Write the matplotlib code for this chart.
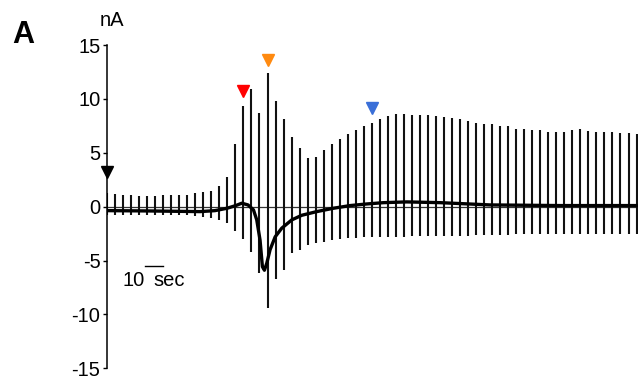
import numpy as np
import matplotlib.pyplot as plt

plt.rcParams['font.family'] = ['Liberation Sans', 'DejaVu Sans']
plt.rcParams['axes.unicode_minus'] = False

# stimulus-evoked current spikes, one every 4.4 s
spike_interval = 4.4
spike_top = [1.24, 1.18, 1.09, 1.09, 0.99, 0.99, 0.99, 1.09, 1.09, 1.09,
             1.09, 1.24, 1.39, 1.48, 1.95, 2.78, 5.82, 9.34, 10.9, 8.66,
             12.4, 9.83, 8.14, 6.47, 5.42, 4.55, 4.6, 5.26, 5.82, 6.28,
             6.72, 7.12, 7.49, 7.74, 8.11, 8.41, 8.6, 8.63, 8.5, 8.5,
             8.5, 8.41, 8.29, 8.26, 8.14, 7.98, 7.74, 7.64, 7.64, 7.51,
             7.49, 7.22, 7.18, 7.12, 7.12, 6.96, 6.96, 6.96, 7.12, 7.18,
             7.05, 6.9, 6.9, 6.9, 6.81, 6.81, 6.74]
spike_bottom = [-0.8, -0.8, -0.8, -0.8, -0.8, -0.8, -0.8, -0.8, -0.8, -0.8,
                -0.8, -0.9, -1.0, -1.05, -1.23, -1.54, -2.23, -3.02, -4.17, -6.18,
                -9.42, -6.73, -5.87, -4.3, -4.02, -3.55, -3.4, -3.25, -3.09, -3.0,
                -2.93, -2.9, -2.78, -2.78, -2.78, -2.78, -2.78, -2.78, -2.75, -2.75,
                -2.72, -2.72, -2.7, -2.7, -2.68, -2.68, -2.66, -2.66, -2.65, -2.65,
                -2.62, -2.58, -2.55, -2.55, -2.55, -2.55, -2.55, -2.55, -2.55, -2.55,
                -2.55, -2.55, -2.55, -2.55, -2.55, -2.55, -2.55]
spike_t = np.arange(len(spike_top)) * spike_interval

# holding current trace (sec, nA)
base_t = [0, 23.6, 51, 59.2, 65.8, 70.6, 73.9, 77.3, 80.3, 82.1, 83.9, 85.2,
          86.3, 87.6, 89.4, 92.2, 95.8, 101.3, 106.8, 115, 124.1, 133.3,
          142.5, 151.6, 164.4, 182.7, 210, 248.5, 290.2]
base_v = [-0.37, -0.4, -0.46, -0.37, -0.15, 0.1, 0.32, 0.16, -0.3, -1.23, -3.1, -5.57,
          -5.9, -5.25, -4.0, -2.8, -2.0, -1.23, -0.8, -0.46, -0.15, 0.1,
          0.25, 0.37, 0.44, 0.37, 0.16, 0.1, 0.1]

# arrowheads: (spike index, height, colour)
marker_idx = [0, 17, 20, 33]
marker_y = [3.2, 10.7, 13.6, 9.2]
marker_col = ['black', '#ff0000', '#ff8a10', '#3a6fd8']

fig = plt.figure(figsize=(6.38, 3.83), dpi=100)
ax = fig.add_axes([106.7 / 638, 0.0384, 1 - 106.7 / 638, 0.8441])

ax.axhline(0, color='#333333', lw=0.9, zorder=1)
ax.vlines(spike_t, spike_bottom, spike_top, color='#111111', lw=1.5, zorder=2)
ax.plot(base_t, base_v, color='black', lw=2.4, zorder=3)

for i, y, c in zip(marker_idx, marker_y, marker_col):
    ax.plot(spike_t[i], y, marker='v', ms=9, color=c, mec=c, clip_on=False, zorder=4)

# scale bar
ax.plot([20.8, 30.8], [-5.5, -5.5], color='black', lw=1.0)
ax.text(8.6, -7.36, '10', fontsize=14.5, va='baseline', ha='left')
ax.text(25.4, -7.36, 'sec', fontsize=14.5, va='baseline', ha='left')

ax.set_xlim(-0.2, 291.2)
ax.set_ylim(-15, 15)
ax.set_yticks([-15, -10, -5, 0, 5, 10, 15])
ax.tick_params(axis='y', labelsize=14.5, length=3, width=1, pad=1.5, direction='out')
ax.set_xticks([])
for s in ['top', 'right', 'bottom']:
    ax.spines[s].set_visible(False)
ax.spines['left'].set_linewidth(1.1)
ax.patch.set_alpha(0)

fig.text(112 / 638, 1 - 20 / 383, 'nA', fontsize=14.5, ha='center', va='center')
fig.text(23 / 638, 1 - 35 / 383, 'A', fontsize=22, fontweight='bold', ha='center', va='center')

fig.savefig('out.png', dpi=100)
